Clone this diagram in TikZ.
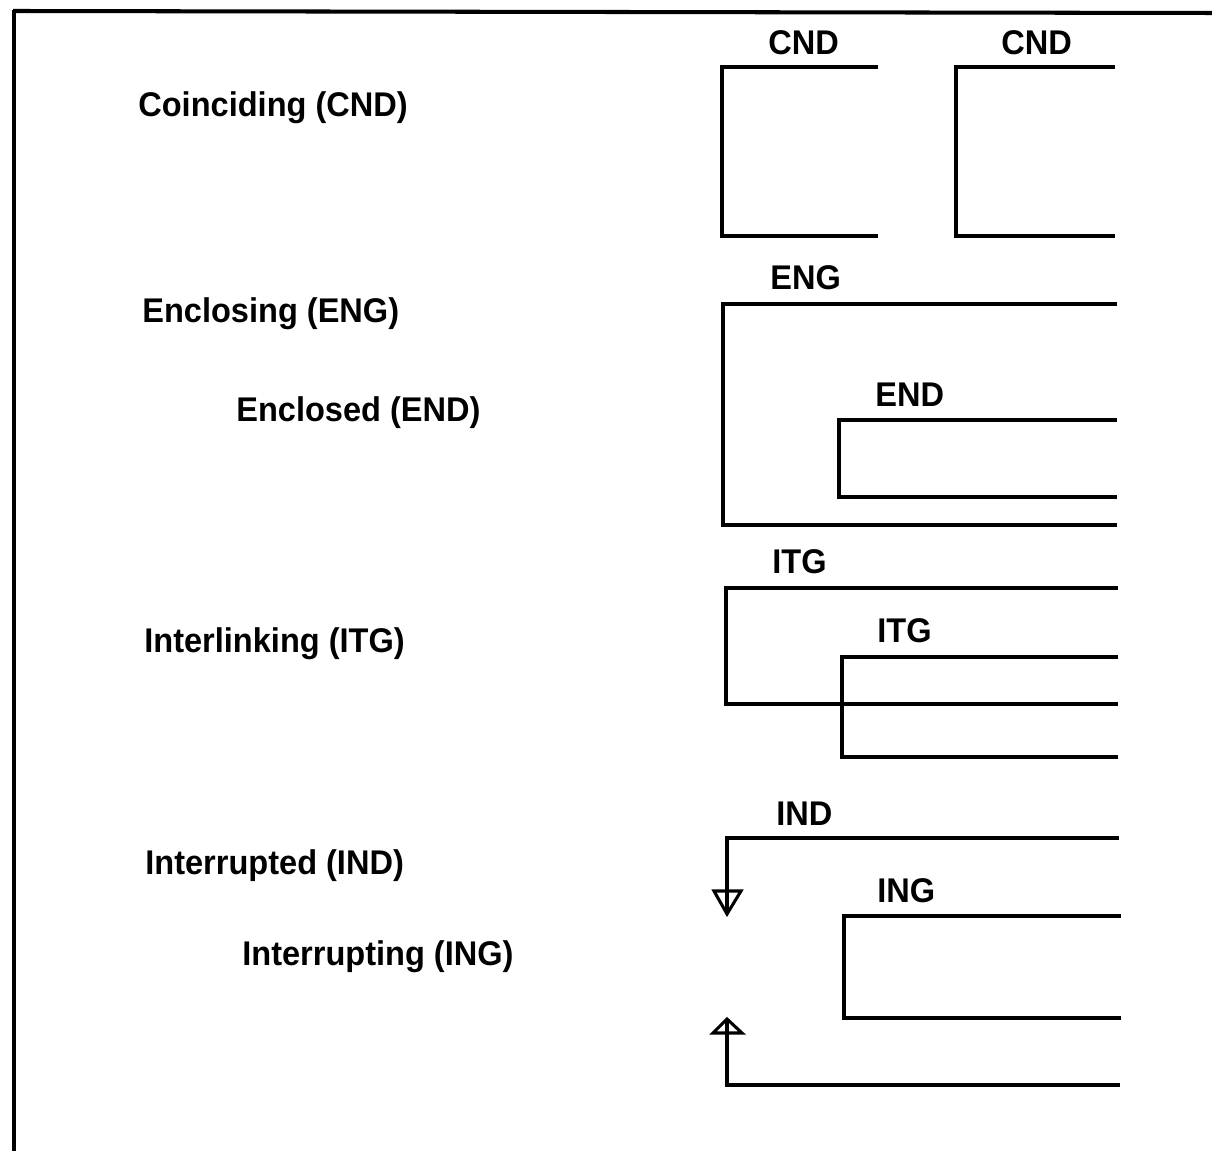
\documentclass[tikz,border=0pt]{standalone}
\usepackage{fontspec}
\setmainfont{Liberation Sans}[FakeStretch=0.95]
\usepackage{tikz}
\usetikzlibrary{positioning, calc}
\def\boxStroke{1.75pt}
\def\frameStroke{2.3pt}
\newcommand{\labelfont}{\fontsize{19.5}{23}\selectfont\bfseries}

\begin{document}
\begin{tikzpicture}[x=0.02cm, y=-0.02cm,
  every node/.style={font=\labelfont, inner sep=0pt, anchor=base west},
  boxline/.style={line width=\boxStroke, line join=miter}]

\useasboundingbox (0,0) rectangle (1212,1151);

% Frame (top and left only)
\draw[line width=\frameStroke] (13,11) -- (1212,13);
\draw[line width=\frameStroke] (14,10) -- (14,1151);

% Helper macro: box open on the right (left x, top y, bottom y, right x)
\newcommand{\rightOpenBox}[4]{%
  \draw[boxline] (#4,#2) -- (#1,#2) -- (#1,#3) -- (#4,#3);
}

% --- Row 1: Coinciding ---
\node (cndText) at (138,117) {Coinciding (CND)};
\node (cndA) at (768,55) {CND};
\node (cndB) at (1001,55) {CND};
\rightOpenBox{722}{67}{236}{878}
\rightOpenBox{956}{67}{236}{1115}

% --- Row 2: Enclosing / Enclosed ---
\node (engText) at (142,323) {Enclosing (ENG)};
\node (endText) at (236,422) {Enclosed (END)};
\node (eng) at (770,290) {ENG};
\node (end) at (875,407) {END};
\rightOpenBox{723}{304}{525}{1117}
\rightOpenBox{839}{420}{497}{1117}

% --- Row 3: Interlinking ---
\node (itgText) at (144,652) {Interlinking (ITG)};
\node (itgA) at (772,573) {ITG};
\node (itgB) at (877,642) {ITG};
\rightOpenBox{726}{588}{704}{1118}
\rightOpenBox{842}{657}{757}{1118}

% --- Row 4: Interrupted / Interrupting ---
\node (indText) at (145,874) {Interrupted (IND)};
\node (ingText) at (242,965) {Interrupting (ING)};
\node (ind) at (776,825) {IND};
\node (ing) at (877,902) {ING};
\draw[boxline] (1119,838) -- (727,838) -- (727,914);
\draw[boxline] (714,891) -- (741,891) -- (727,914) -- cycle;
\draw[boxline] (1120,1085) -- (727,1085) -- (727,1019);
\draw[boxline] (713,1033) -- (742,1033) -- (727,1019) -- cycle;
\rightOpenBox{844}{916}{1018}{1121}

\end{tikzpicture}
\end{document}
